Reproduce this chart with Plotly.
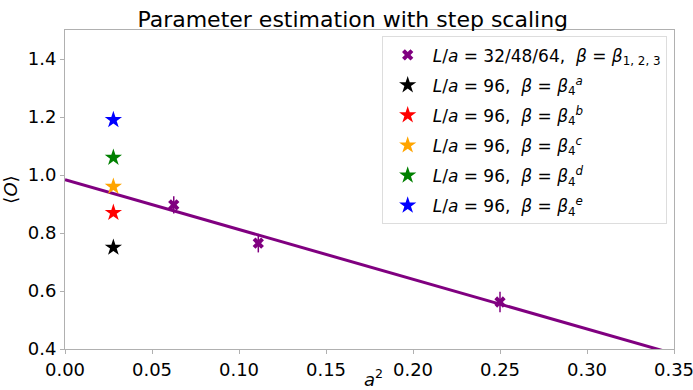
import numpy as np
import plotly.graph_objects as go

# Data
a2_main = [0.0625, 0.1111, 0.25]
O_main = [0.897, 0.765, 0.562]
O_main_err = [0.030, 0.032, 0.035]

a2_96 = 0.0278
star_labels = ["a", "b", "c", "d", "e"]
star_values = [0.75, 0.87, 0.96, 1.06, 1.19]
star_errs = [0.008, 0.008, 0.008, 0.008, 0.008]
star_colors = ["black", "red", "orange", "green", "blue"]

x_ticks = [0.0, 0.05, 0.10, 0.15, 0.20, 0.25, 0.30, 0.35]
y_ticks = [0.4, 0.6, 0.8, 1.0, 1.2, 1.4]

purple = "#800080"

slope, intercept = np.polyfit(a2_main, O_main, 1)
x_fit = np.array([0.0, 0.35])
y_fit = intercept + slope * x_fit

fig = go.Figure()

fig.add_trace(go.Scatter(
    x=x_fit, y=y_fit, mode="lines",
    line=dict(color=purple, width=3), showlegend=False, hoverinfo="skip"))

fig.add_trace(go.Scatter(
    x=a2_main, y=O_main, mode="markers", legendgroup="g0",
    marker=dict(symbol="x", size=10, color=purple),
    error_y=dict(type="data", array=O_main_err, color=purple, thickness=1.5, width=0),
    name="<i>L</i>/<i>a</i> = 32/48/64,  <i>β</i> = <i>β</i><sub>1, 2, 3</sub>"))

for i, (lab, val, err, col) in enumerate(zip(star_labels, star_values, star_errs, star_colors)):
    fig.add_trace(go.Scatter(
        x=[a2_96], y=[val], mode="markers", legendgroup=f"g{i+1}",
        marker=dict(symbol="star", size=13, color=col),
        error_y=dict(type="data", array=[err], color=col, thickness=1.5, width=0),
        name=f"<i>L</i>/<i>a</i> = 96,  <i>β</i> = <i>β</i><sub>4</sub><sup><i>{lab}</i></sup>"))

axis_common = dict(
    showgrid=False, zeroline=False, showline=True, linecolor="#b0b0b0", linewidth=1,
    mirror=True, ticks="outside", ticklen=4, tickcolor="#b0b0b0", automargin=False,
    ticklabeloverflow="allow", tickfont=dict(size=18, color="black"))

fig.update_layout(
    width=693, height=390,
    margin=dict(l=65, r=19, t=30, b=41),
    paper_bgcolor="white", plot_bgcolor="white",
    font=dict(family="DejaVu Sans", color="black"),
    title=dict(text="Parameter estimation with step scaling", x=0.509, xanchor="center",
               y=0.951, yref="container", yanchor="middle", font=dict(size=22),
               automargin=False),
    xaxis=dict(range=[0, 0.35], tickvals=x_ticks, tickformat=".2f", **axis_common),
    yaxis=dict(range=[0.4, 1.5], tickvals=y_ticks, tickformat=".1f",
               title=dict(text="⟨<i>O</i>⟩", font=dict(size=18), standoff=6),
               **axis_common),
    legend=dict(x=0.52, y=0.98, xanchor="left", yanchor="top",
                bgcolor="white", bordercolor="#dddddd", borderwidth=1,
                font=dict(size=17), tracegroupgap=5, itemwidth=40),
    annotations=[dict(text="<i>a</i><sup>2</sup>", x=0.507, y=-0.09, xref="paper", yref="paper",
                      xanchor="center", yanchor="middle", showarrow=False,
                      font=dict(size=18))],
)

fig.write_html("out.html", config={"displayModeBar": False},
               post_script="document.body.style.margin='0';document.body.style.overflow='hidden';")
